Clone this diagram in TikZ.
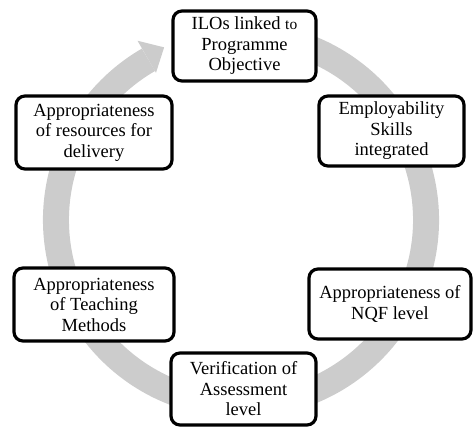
\documentclass[tikz,border=0pt]{standalone}
\usepackage{fontspec}
\setmainfont{Liberation Serif}
\usetikzlibrary{calc}
\begin{document}
\begin{tikzpicture}[x=1pt,y=-1pt,
  box/.style={draw=black, line width=3.2pt, rounded corners=9pt, fill=white,
    align=center, inner sep=0pt, font=\fontsize{18.5}{20.5}\selectfont},
  ring/.style={draw=black!20, line width=26pt},
  ringhead/.style={fill=black!20}]
\useasboundingbox (0,0) rectangle (474,428);
\coordinate (c) at (241,220);
\coordinate (rs) at ($(c)+(-70:185)$);
\coordinate (w1) at ($(c)+(240:207)$);
\coordinate (w2) at ($(c)+(240:170)$);
\coordinate (tip) at ($(c)+(246:189)$);
\draw[ring] (rs) arc[start angle=-70, end angle=240, radius=185];
\fill[ringhead] (w1) -- (tip) -- (w2) -- cycle;

\node[box, minimum width=143pt, minimum height=70pt] (ilo) at (244.5,46)
  {ILOs linked {\fontsize{15.5}{20.5}\selectfont to}\\Programme\\Objective};
\node[box, minimum width=156pt, minimum height=73pt] (res) at (94,132.5)
  {Appropriateness\\of resources for\\delivery};
\node[box, minimum width=145pt, minimum height=70pt] (emp) at (391.5,131)
  {Employability\\Skills\\integrated};
\node[box, minimum width=160pt, minimum height=73pt] (teach) at (94,304.5)
  {Appropriateness\\of Teaching\\Methods};
\node[box, minimum width=162pt, minimum height=70pt] (nqf) at (390,304)
  {Appropriateness of\\NQF level};
\node[box, minimum width=145pt, minimum height=72pt] (ver) at (243.5,389)
  {Verification of\\Assessment\\level};
\end{tikzpicture}
\end{document}
